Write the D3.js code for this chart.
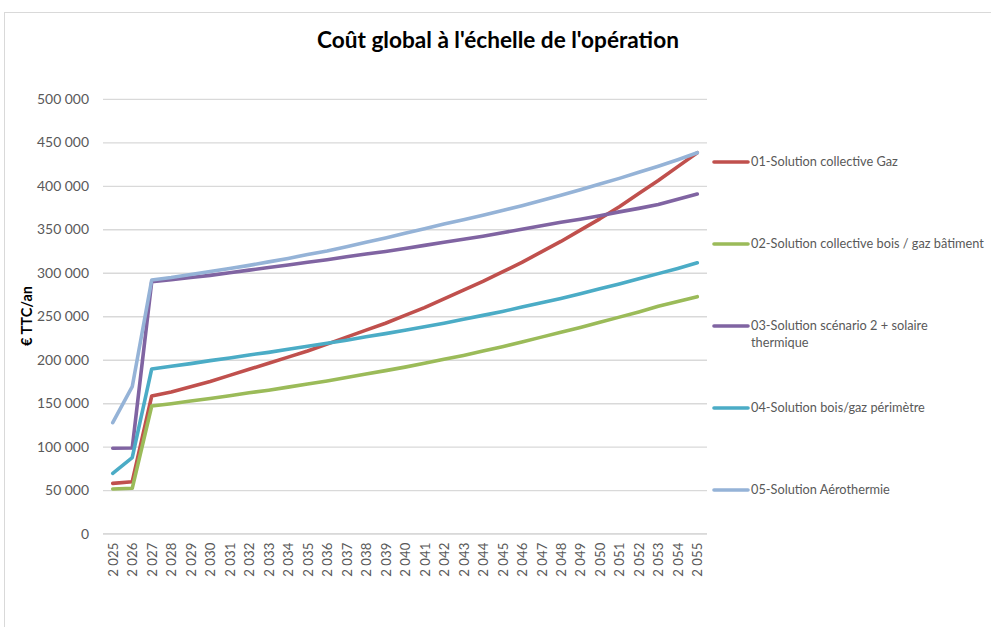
<!DOCTYPE html>
<html>
<head>
<meta charset="utf-8">
<script src="https://cdn.jsdelivr.net/npm/d3@7"></script>
<style>
  html, body { margin: 0; padding: 0; background: #fff; }
  svg { display: block; font-family: Lato, "Open Sans", sans-serif; }
</style>
</head>
<body>
<svg id="chart" width="991" height="627"></svg>
<script>
// Years on the horizontal axis
const years = d3.range(2025, 2056);

// Annual global cost (€ TTC/an) per solution, 2025 → 2055
const gaz = [57900, 59800, 158300, 163000, 169000, 175000, 182000, 189000, 196000, 203000,
  210000, 218000, 226000, 234000, 242000, 251000, 260000, 270000, 280000, 290000,
  301000, 312000, 324000, 336000, 349000, 362000, 376000, 391000, 406000, 422000, 438000];
const boisGazBatiment = [51400, 52200, 146800, 149500, 152500, 155500, 158500, 162000, 165000, 168500,
  172000, 175500, 179500, 183500, 187500, 191500, 196000, 200500, 205000, 210000,
  215000, 220500, 226000, 231500, 237000, 243000, 249000, 255000, 261500, 267000, 272500];
const scenario2Solaire = [98200, 98500, 289700, 292000, 294500, 297000, 300000, 303000, 306000, 309000,
  312000, 315000, 318500, 321500, 324500, 328000, 331500, 335000, 338500, 342000,
  346000, 350000, 354000, 358000, 361500, 365500, 370000, 374000, 378500, 384500, 390500];
const boisGazPerimetre = [69400, 87400, 189400, 192500, 195500, 199000, 202000, 205500, 208500, 212000,
  215500, 219000, 222500, 226500, 230000, 234000, 238000, 242000, 246500, 251000,
  255500, 260500, 265500, 270500, 276000, 281500, 287000, 293000, 299000, 305000, 311500];
const aerothermie = [127600, 169000, 291700, 294500, 298000, 301500, 305000, 308500, 312500, 316500,
  321000, 325000, 330000, 335000, 340000, 345500, 350500, 356000, 361000, 366000,
  371500, 377000, 383000, 389000, 395500, 402000, 408500, 415500, 422500, 430000, 438000];

const seriesNames = [
  "01-Solution collective Gaz",
  "02-Solution collective bois / gaz bâtiment",
  "03-Solution scénario 2 + solaire thermique",
  "04-Solution bois/gaz périmètre",
  "05-Solution Aérothermie"
];
const seriesValues = [gaz, boisGazBatiment, scenario2Solaire, boisGazPerimetre, aerothermie];
const seriesColors = ["#C0504D", "#9BBB59", "#8064A2", "#4BACC6", "#95B3D7"];

const yTicks = [0, 50000, 100000, 150000, 200000, 250000, 300000, 350000, 400000, 450000, 500000];

const title = "Coût global à l'échelle de l'opération";
const yTitle = "€ TTC/an";

const svg = d3.select("#chart");

// Font size that makes a sample string span the given width
function fitSize(sample, width, weight) {
  const probe = svg.append("text").attr("font-size", 100).attr("font-weight", weight || "normal").text(sample);
  const w = probe.node().getComputedTextLength();
  probe.remove();
  return 100 * width / w;
}
const titleSize = fitSize(title, 362, "bold");
const tickSize = fitSize("500 000", 52);
const yearSize = fitSize("2 025", 34);
const legendSize = fitSize("01-Solution collective Gaz", 147);
const yTitleSize = fitSize(yTitle, 60, "bold");

// Outer chart frame
svg.append("rect")
  .attr("x", 4.5).attr("y", 12.5)
  .attr("width", 1000).attr("height", 640)
  .attr("fill", "#fff")
  .attr("stroke", "#d9d9d9").attr("stroke-width", 1);

const plot = { left: 103, right: 707, top: 98.8, bottom: 533.7 };

const x = d3.scalePoint().domain(years).range([plot.left, plot.right]).padding(0.5);
const y = d3.scaleLinear().domain([0, 500000]).range([plot.bottom, plot.top]);

const fmt = v => d3.format(",")(v).replace(/,/g, " ");

// Horizontal gridlines + y tick labels
const yAxis = d3.axisLeft(y).tickValues(yTicks).tickSize(-(plot.right - plot.left)).tickFormat(fmt).tickPadding(14);
const gy = svg.append("g").attr("transform", `translate(${plot.left},0)`).call(yAxis);
gy.select(".domain").remove();
gy.selectAll(".tick line").attr("stroke", "#d9d9d9").attr("stroke-width", 1.3);
gy.selectAll(".tick text").attr("fill", "#595959").attr("font-size", tickSize).attr("font-family", "Lato, sans-serif");

// X axis with rotated year labels
const xAxis = d3.axisBottom(x).tickSize(0).tickFormat(fmt).tickPadding(0);
const gx = svg.append("g").attr("transform", `translate(0,${plot.bottom})`).call(xAxis);
gx.select(".domain").attr("stroke", "#d9d9d9").attr("stroke-width", 1.3)
  .attr("d", `M${plot.left},0H${plot.right}`);
gx.selectAll(".tick text")
  .attr("fill", "#595959").attr("font-size", yearSize).attr("font-family", "Lato, sans-serif")
  .attr("text-anchor", "end")
  .attr("transform", "rotate(-90)")
  .attr("x", -9).attr("y", 0).attr("dy", "0.35em");

// Series lines
const line = d3.line().x((d, i) => x(years[i])).y(d => y(d));
svg.append("g").selectAll("path")
  .data(seriesValues)
  .join("path")
  .attr("d", d => line(d))
  .attr("fill", "none")
  .attr("stroke", (d, i) => seriesColors[i])
  .attr("stroke-width", 3.6)
  .attr("stroke-linejoin", "round")
  .attr("stroke-linecap", "round");

// Title
svg.append("text")
  .attr("x", 498).attr("y", 48)
  .attr("text-anchor", "middle")
  .attr("font-size", titleSize).attr("font-weight", "bold").attr("fill", "#000")
  .text(title);

// Y axis title
svg.append("text")
  .attr("transform", "translate(27,316) rotate(-90)")
  .attr("text-anchor", "middle")
  .attr("dy", "0.35em")
  .attr("font-size", yTitleSize).attr("font-weight", "bold").attr("fill", "#000")
  .text(yTitle);

// Legend
const legendY = [162, 244, 326, 408, 490];
const legend = svg.append("g");
seriesNames.forEach((name, i) => {
  const g = legend.append("g").attr("transform", `translate(713,${legendY[i]})`);
  g.append("line").attr("x1", 1).attr("x2", 35).attr("y1", 0).attr("y2", 0)
    .attr("stroke", seriesColors[i]).attr("stroke-width", 3.6).attr("stroke-linecap", "round");
  const t = g.append("text").attr("x", 38).attr("y", 0)
    .attr("font-size", legendSize).attr("fill", "#595959");
  const parts = i === 2 ? ["03-Solution scénario 2 + solaire", "thermique"] : [name];
  parts.forEach((p, k) => t.append("tspan").attr("x", 38).attr("dy", k === 0 ? "0.35em" : "17").text(p));
});
</script>
</body>
</html>
